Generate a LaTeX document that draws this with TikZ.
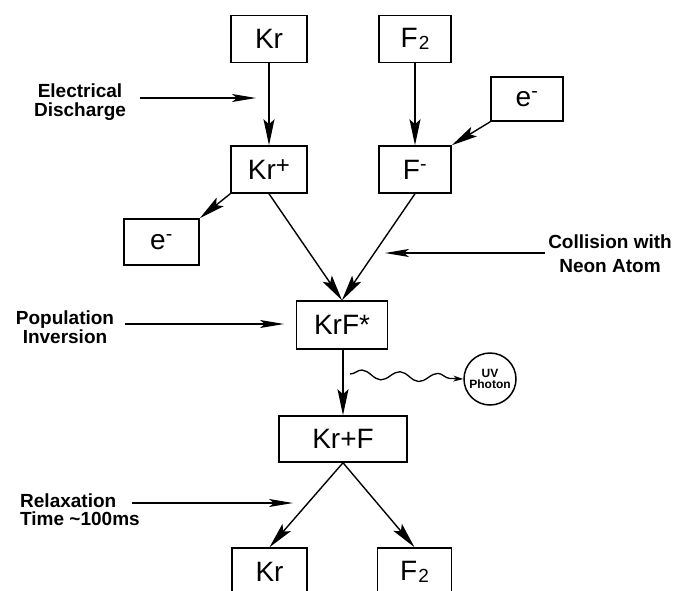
\documentclass[tikz,border=0pt]{standalone}
\usepackage{fontspec}
\setmainfont{Liberation Sans}
\usetikzlibrary{arrows.meta,decorations.pathmorphing}
\tikzset{
  box/.style={draw, line width=1.5pt, inner sep=0pt, minimum width=#1, minimum height=47pt, font=\fontsize{28}{30}\selectfont},
  conn/.style={line width=1.4pt, -{Stealth[length=26pt,width=11pt,inset=5pt]}},
  lblarrow/.style={line width=1.4pt, -{Stealth[length=24pt,width=8pt,inset=5pt]}},
  lbl/.style={font=\bfseries\fontsize{19}{#1}\selectfont, inner sep=0pt},
}
\begin{document}
\begin{tikzpicture}[x=1pt,y=-1pt]
\useasboundingbox (0,0) rectangle (678,590);
\clip (0,0) rectangle (678,590);
% boxes
\node[box=76pt] (krtop) at (269,39) {Kr};
\node[box=76pt] (krp) at (269,169.5) {Kr\raisebox{6pt}{\fontsize{24}{24}\selectfont +}};
\node[box=72pt] (f2top) at (415,39) {F\kern1pt\raisebox{-2pt}{\fontsize{19}{19}\selectfont 2}};
\node[box=72pt, minimum height=44pt] (eR) at (527,99) {e\textsuperscript{-}};
\node[box=72pt] (fm) at (415,169.5) {F\textsuperscript{-}};
\node[box=75pt, minimum height=46pt] (eL) at (161.5,242) {e\textsuperscript{-}};
\node[box=91pt, minimum height=48pt] (krf) at (342,325) {KrF*};
\node[box=128pt, minimum height=46pt] (krpf) at (343,439) {Kr+F};
\node[box=75pt, minimum height=48pt] (krbot) at (269.5,572) {Kr};
\node[box=74pt, minimum height=48pt] (f2bot) at (414.5,572) {F\kern1pt\raisebox{-2pt}{\fontsize{19}{19}\selectfont 2}};
\node[draw, circle, line width=1.5pt, minimum size=52pt, inner sep=0pt, align=center,
      font=\bfseries\fontsize{12}{12}\selectfont] (uv) at (490,379) {UV\\[-1pt]Photon};
% connectors
\draw[conn] (krtop) -- (krp);
\draw[conn] (f2top) -- (fm);
\draw[conn] (eR.south west) -- (fm.north east);
\draw[conn] (krp.south west) -- (eL.north east);
\draw[conn] (krp.south) -- (krf.north);
\draw[conn] (fm.south) -- (krf.north);
\draw[conn] (krf.south -| krpf.north) -- (krpf.north);
\draw[conn] (krpf.south) -- (krbot.north);
\draw[conn] (krpf.south) -- (f2bot.north);
% photon
\coordinate (w0) at (350,374);
\draw[line width=1.3pt, decorate, decoration={snake, segment length=38pt, amplitude=4.5pt, post length=12pt},
      -{Stealth[length=10pt,width=6pt]}] (w0) -- (uv.west);
% labels
\node[lbl=19pt, align=center] (ed) at (80,102) {Electrical\\Discharge};
\coordinate (edt) at (256,98);
\draw[lblarrow] (140,98) -- (edt);
\node[lbl=24pt, align=center] (cn) at (610,254) {Collision with\\Neon Atom};
\coordinate (cnt) at (385,253);
\draw[lblarrow] (545,253) -- (cnt);
\node[lbl=19pt, align=center] (pi) at (65,327) {Population\\Inversion};
\coordinate (pit) at (284,324);
\draw[lblarrow] (125,324) -- (pit);
\node[lbl=18pt, align=left, anchor=west] (rt) at (20,510) {Relaxation\\Time \textasciitilde 100ms};
\coordinate (rtt) at (293,503);
\draw[lblarrow] (132,503) -- (rtt);
\end{tikzpicture}
\end{document}
